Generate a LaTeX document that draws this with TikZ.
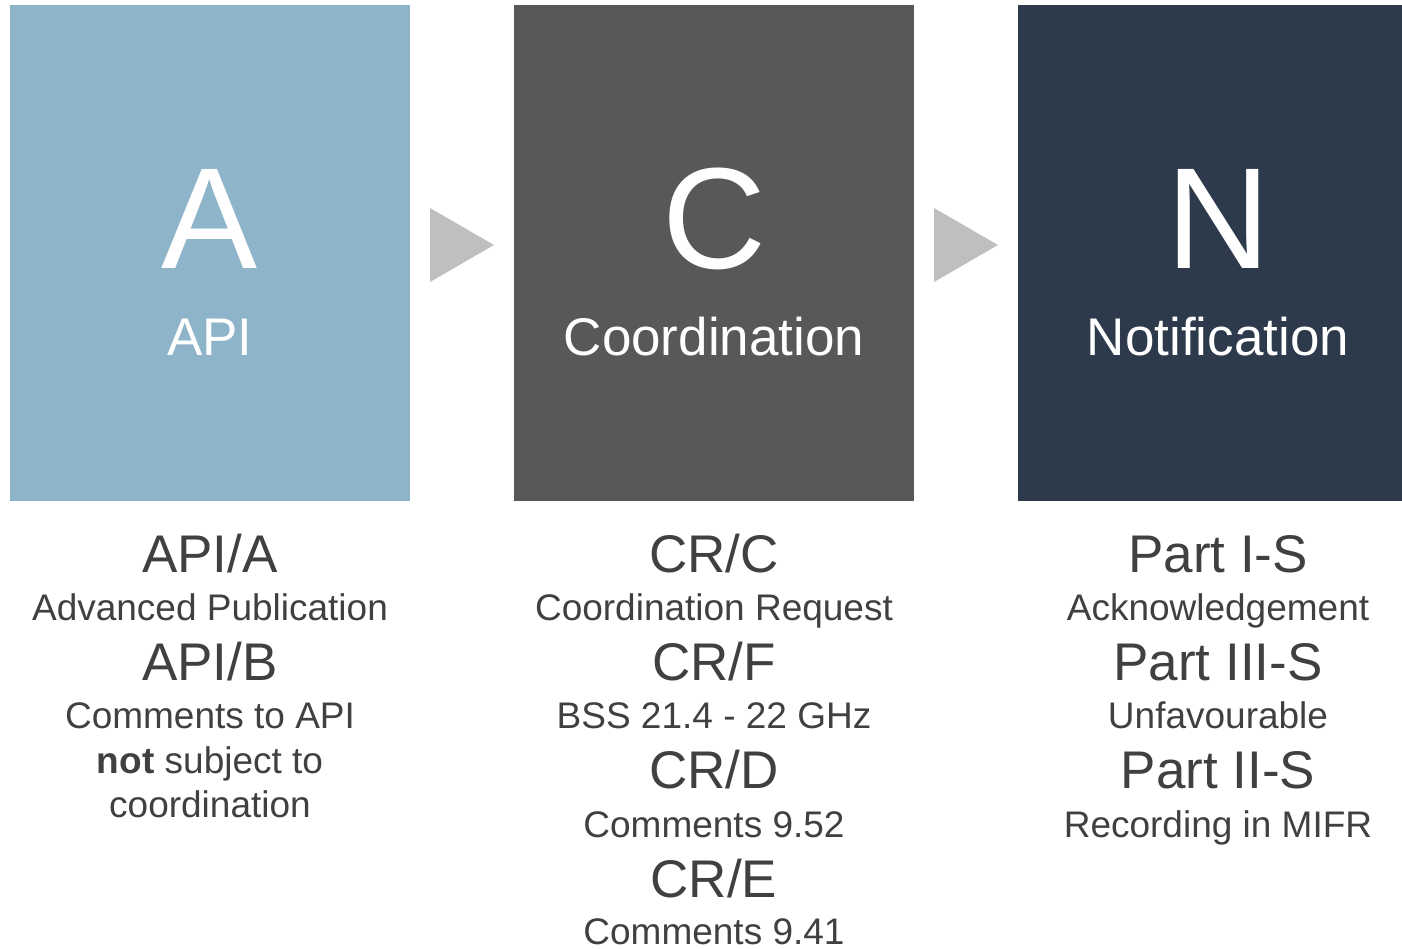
\documentclass[tikz,border=0pt]{standalone}
\usepackage{fontspec}
\setmainfont{Liberation Sans}
\definecolor{cA}{HTML}{8DB4C9}
\definecolor{cC}{HTML}{5A5856}
\definecolor{cN}{HTML}{2D3A4B}
\definecolor{tx}{HTML}{404040}
\definecolor{arr}{HTML}{BFBFBF}
\begin{document}
\begin{tikzpicture}[x=1pt,y=-1pt,
  panel/.style={rectangle, draw=none, inner sep=0pt, minimum height=496pt},
  bigletter/.style={anchor=base, inner sep=0pt, text=white, font=\fontsize{144}{144}\selectfont},
  paneltitle/.style={anchor=base, inner sep=0pt, text=white, font=\fontsize{53}{53}\selectfont},
  code/.style={anchor=base, inner sep=0pt, text=tx, font=\fontsize{53}{53}\selectfont},
  desc/.style={anchor=base, inner sep=0pt, text=tx, font=\fontsize{37}{37}\selectfont},
  chevron/.style={fill=arr, draw=none}]
\useasboundingbox (0,0) rectangle (1402,948);
% panels
\node[panel, fill=cA, minimum width=400pt] (boxA) at (210,253) {};
\node[panel, fill=cC, minimum width=400pt] (boxC) at (714,253) {};
\node[panel, fill=cN, minimum width=384pt] (boxN) at (1210,253) {};
% arrows
\fill[chevron] (430,208) -- (494,245) -- (430,282) -- cycle;
\fill[chevron] (934,208) -- (998,245) -- (934,282) -- cycle;
% panel letters
\node[bigletter] (lA) at (210,268) {A};
\node[paneltitle] (tA) at (210,355) {API};
\node[bigletter] (lC) at (714,268) {C};
\node[paneltitle] (tC) at (714,355) {Coordination};
\node[bigletter] (lN) at (1218,268) {N};
\node[paneltitle] (tN) at (1218,355) {Notification};
% left column
\node[code] (a1) at (210,572) {API/A};
\node[desc] (a2) at (210,620) {Advanced Publication};
\node[code] (a3) at (210,680) {API/B};
\node[desc] (a4) at (210,728) {Comments to API};
\node[desc] (a5) at (210,773) {\textbf{not} subject to};
\node[desc] (a6) at (210,817) {coordination};
% middle column
\node[code] (c1) at (714,572) {CR/C};
\node[desc] (c2) at (714,620) {Coordination Request};
\node[code] (c3) at (714,680) {CR/F};
\node[desc] (c4) at (714,728) {BSS 21.4 - 22 GHz};
\node[code] (c5) at (714,788) {CR/D};
\node[desc] (c6) at (714,837) {Comments 9.52};
\node[code] (c7) at (714,897) {CR/E};
\node[desc] (c8) at (714,944) {Comments 9.41};
% right column
\node[code] (n1) at (1218,572) {Part I-S};
\node[desc] (n2) at (1218,620) {Acknowledgement};
\node[code] (n3) at (1218,680) {Part III-S};
\node[desc] (n4) at (1218,728) {Unfavourable};
\node[code] (n5) at (1218,788) {Part II-S};
\node[desc] (n6) at (1218,837) {Recording in MIFR};
\end{tikzpicture}
\end{document}
